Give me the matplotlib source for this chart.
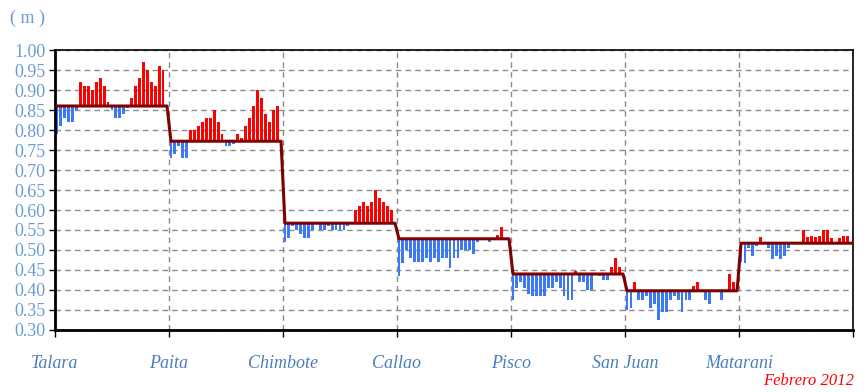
import numpy as np
import matplotlib
matplotlib.use("Agg")
import matplotlib.pyplot as plt

# stations and their monthly mean level (m)
stations = ["Talara", "Paita", "Chimbote", "Callao", "Pisco", "San Juan", "Matarani"]
means = [0.86, 0.772, 0.567, 0.528, 0.44, 0.398, 0.517]

# daily sea level, February 2012 (29 days per station)
talara = [0.79, 0.81, 0.83, 0.82, 0.82, 0.85, 0.92, 0.91, 0.91, 0.90,
          0.92, 0.93, 0.91, 0.87, 0.85, 0.83, 0.83, 0.84, 0.855, 0.88,
          0.91, 0.93, 0.97, 0.95, 0.92, 0.91, 0.96, 0.95, 0.86]
paita = [0.73, 0.74, 0.76, 0.73, 0.73, 0.80, 0.80, 0.81, 0.82, 0.83,
         0.83, 0.85, 0.82, 0.79, 0.76, 0.76, 0.765, 0.79, 0.78, 0.81,
         0.83, 0.86, 0.90, 0.88, 0.84, 0.82, 0.85, 0.86, 0.772]
chimbote = [0.52, 0.53, 0.56, 0.55, 0.54, 0.53, 0.53, 0.55, 0.57, 0.55,
            0.55, 0.56, 0.55, 0.55, 0.55, 0.55, 0.56, 0.57, 0.60, 0.61,
            0.62, 0.61, 0.62, 0.65, 0.63, 0.62, 0.61, 0.60, 0.567]
callao = [0.435, 0.467, 0.50, 0.48, 0.47, 0.47, 0.47, 0.48, 0.47, 0.48,
          0.47, 0.48, 0.48, 0.455, 0.48, 0.48, 0.50, 0.50, 0.50, 0.49,
          0.52, 0.525, 0.53, 0.52, 0.53, 0.537, 0.557, 0.53, 0.528]
pisco = [0.375, 0.405, 0.42, 0.405, 0.39, 0.385, 0.385, 0.385, 0.385, 0.405,
         0.405, 0.42, 0.405, 0.385, 0.375, 0.375, 0.448, 0.42, 0.42, 0.40,
         0.40, 0.443, 0.435, 0.425, 0.425, 0.458, 0.479, 0.458, 0.44]
san_juan = [0.35, 0.355, 0.42, 0.375, 0.375, 0.385, 0.355, 0.365, 0.325, 0.345,
            0.345, 0.375, 0.385, 0.375, 0.345, 0.375, 0.375, 0.41, 0.42, 0.40,
            0.375, 0.365, 0.40, 0.40, 0.375, 0.40, 0.44, 0.42, 0.40]
matarani = [0.47, 0.467, 0.504, 0.485, 0.51, 0.532, 0.52, 0.504, 0.477, 0.485,
            0.477, 0.485, 0.505, 0.52, 0.52, 0.52, 0.55, 0.532, 0.535, 0.532,
            0.535, 0.55, 0.55, 0.53, 0.52, 0.53, 0.535, 0.535, 0.52]

series = [talara, paita, chimbote, callao, pisco, san_juan, matarani]
ndays = 29

fig = plt.figure(figsize=(8.67, 3.92), dpi=100)
ax = fig.add_axes([0.0634, 0.1582, 0.9205, 0.7142])

red = "#ff0000"
blue = "#3d78f5"
xs_all = []
line_all = []
for k, vals in enumerate(series):
    vals = np.array(vals)
    x = np.arange(ndays) + k * ndays
    base = means[k]
    h = vals - base
    cols = [red if v >= 0 else blue for v in h]
    ax.bar(x, h, bottom=base, width=0.72, color=cols, zorder=2)
    xs_all.extend(x)
    line_all.extend([base] * ndays)

ax.plot(xs_all, line_all, color="#7f0000", lw=2.2, zorder=3)

ax.set_xlim(-0.5, len(series) * ndays - 0.5)
ax.set_ylim(0.30, 1.00)
ax.set_yticks(np.arange(0.30, 1.001, 0.05))
ax.set_yticklabels([f"{v:.2f}" for v in np.arange(0.30, 1.001, 0.05)],
                   fontsize=13, color="#6b9bd2", family="Liberation Serif")

bounds = [k * ndays - 0.5 for k in range(len(series) + 1)]
ax.set_xticks(bounds)
ax.set_xticklabels(stations + [""], fontsize=13, style="italic",
                   color="#4a7ebb", family="Liberation Serif")
ax.tick_params(axis="x", length=5, width=1, pad=13, direction="out")
ax.tick_params(axis="y", length=4, width=1, pad=3, direction="out")

ax.grid(True, color="#8c8c8c", ls=(0, (4, 3)), lw=1, zorder=0)
ax.set_axisbelow(True)
for s in ax.spines.values():
    s.set_color("black")
ax.spines["left"].set_linewidth(2)
ax.spines["bottom"].set_linewidth(2)
ax.spines["top"].set_linewidth(1.2)
ax.spines["right"].set_linewidth(1.2)

fig.text(0.012, 0.952, "( m )", fontsize=13, color="#6b9bd2",
         family="Liberation Serif", va="center")
fig.text(0.985, 0.028, "Febrero 2012", fontsize=12, color=red, style="italic",
         family="Liberation Serif", ha="right", va="center")

fig.savefig("out.png", dpi=100)
